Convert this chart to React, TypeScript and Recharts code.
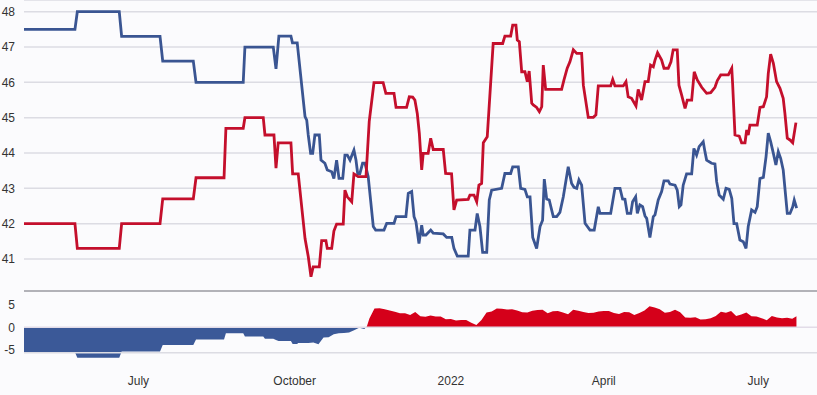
import { LineChart, Line, AreaChart, Area, XAxis, YAxis, CartesianGrid, ReferenceLine } from "recharts";

// x = days counted from 1 July 2021
const dayRange: [number, number] = [-67.4, 399.6];
const monthTicks = [0, 92, 184, 274, 365];
const monthLabels = ["July", "October", "2022", "April", "July"];

const levelTicks = [41, 42, 43, 44, 45, 46, 47, 48];
const gapTicks = [-5, 0, 5];

// blue series [day, %]
const demPoints: [number, number][] = [
	[-67.4, 47.5], [-37.4, 47.5], [-36.0, 48.0], [-11.3, 48.0], [-9.9, 47.3], [12.7, 47.3], [14.3, 46.6], [32.3, 46.6],
	[33.9, 46.0], [61.7, 46.0], [62.7, 47.0], [79.4, 47.0], [81.0, 46.38], [82.7, 47.31], [89.8, 47.31], [90.7, 47.12],
	[93.5, 47.12], [98.1, 45.03], [99.1, 44.93], [100.0, 44.51], [101.4, 43.99], [102.6, 43.99], [103.9, 44.51], [106.5, 44.51],
	[107.5, 43.8], [109.8, 43.71], [111.2, 43.52], [113.8, 43.47], [115.1, 43.28], [116.7, 43.8], [118.1, 43.28], [120.3, 43.28],
	[121.6, 43.94], [123.0, 43.94], [124.6, 43.8], [126.9, 44.08], [128.1, 43.8], [129.1, 43.42], [130.4, 43.42], [132.0, 43.71],
	[133.4, 43.71], [135.3, 43.33], [138.3, 41.92], [139.7, 41.82], [144.6, 41.82], [146.2, 42.01], [150.5, 42.01], [151.7, 42.2],
	[157.5, 42.2], [158.9, 42.86], [160.9, 42.91], [162.3, 42.2], [163.4, 42.06], [165.2, 41.44], [166.8, 41.96], [167.7, 41.68],
	[169.3, 41.68], [172.1, 41.82], [173.6, 41.73], [179.5, 41.71], [181.5, 41.61], [184.5, 41.61], [185.8, 41.3], [187.8, 41.08],
	[194.2, 41.08], [195.2, 41.82], [198.2, 41.82], [199.5, 42.29], [201.1, 41.92], [202.7, 41.19], [205.1, 41.19], [206.6, 42.67],
	[208.0, 42.95], [213.9, 43.0], [215.8, 43.42], [219.2, 43.42], [220.4, 43.61], [223.7, 43.61], [225.1, 43.0], [227.6, 42.97],
	[229.0, 42.76], [230.6, 42.76], [232.2, 41.61], [234.5, 41.3], [236.5, 41.92], [238.0, 42.1], [239.0, 43.26], [240.4, 42.7],
	[241.9, 42.67], [244.3, 42.2], [246.3, 42.2], [248.2, 42.32], [250.2, 42.76], [253.1, 43.61], [255.1, 43.14], [256.5, 43.03],
	[258.1, 43.0], [259.4, 43.24], [261.0, 43.09], [263.0, 42.01], [265.9, 41.82], [268.4, 41.82], [270.8, 42.48], [271.8, 42.29],
	[278.1, 42.29], [280.6, 43.0], [283.6, 43.0], [285.1, 42.7], [286.5, 42.69], [287.9, 42.29], [289.9, 42.29], [291.0, 42.62],
	[292.8, 42.76], [293.8, 42.29], [295.3, 42.53], [296.9, 42.48], [298.3, 42.22], [299.3, 42.15], [301.2, 41.61], [303.2, 42.2],
	[304.2, 42.25], [306.1, 42.67], [308.1, 42.91], [309.5, 43.21], [312.0, 43.21], [313.0, 43.12], [316.0, 43.09], [317.3, 42.95],
	[318.5, 42.48], [319.5, 42.53], [320.8, 43.09], [322.8, 43.41], [325.8, 43.41], [327.1, 44.13], [328.7, 43.94], [330.2, 44.18],
	[332.6, 44.32], [333.6, 44.04], [334.6, 43.8], [337.5, 43.71], [339.5, 43.69], [340.5, 43.19], [342.0, 42.81], [344.4, 42.69],
	[346.0, 43.0], [347.9, 42.97], [349.4, 42.72], [350.7, 42.0], [352.3, 42.0], [354.2, 41.54], [356.2, 41.49], [357.8, 41.3],
	[359.1, 41.92], [361.1, 42.39], [363.1, 42.32], [364.4, 42.48], [366.0, 43.28], [368.0, 43.31], [369.6, 43.9], [370.9, 44.56],
	[372.3, 44.32], [373.9, 43.99], [375.4, 43.66], [376.8, 44.04], [378.2, 43.85], [379.7, 43.52], [382.1, 42.29], [383.7, 42.29],
	[385.3, 42.48], [386.2, 42.67], [387.6, 42.44],
];

// red series [day, %]
const gopPoints: [number, number][] = [
	[-67.4, 42.0], [-37.4, 42.0], [-36.0, 41.3], [-11.3, 41.3], [-9.9, 42.0], [12.7, 42.0], [14.3, 42.7], [32.3, 42.7],
	[33.9, 43.3], [50.4, 43.3], [51.5, 44.7], [61.7, 44.7], [62.7, 45.0], [73.5, 45.0], [74.5, 44.51], [79.8, 44.51],
	[81.0, 43.57], [82.3, 44.29], [89.8, 44.29], [90.8, 43.41], [94.1, 43.41], [98.1, 41.58], [100.0, 41.07], [101.6, 40.5],
	[102.9, 40.78], [106.5, 40.78], [107.9, 41.52], [110.4, 41.52], [111.2, 41.3], [113.8, 41.3], [115.1, 41.79], [116.7, 41.99],
	[120.6, 41.99], [121.6, 42.95], [123.0, 42.76], [125.6, 42.62], [126.9, 43.41], [129.4, 43.33], [134.0, 43.33], [135.9, 44.89],
	[138.7, 45.99], [144.1, 45.99], [145.7, 45.69], [150.5, 45.69], [151.7, 45.29], [157.9, 45.29], [159.5, 45.59], [161.5, 45.58],
	[162.8, 45.5], [164.2, 45.12], [165.4, 44.56], [166.8, 43.52], [167.7, 43.99], [170.6, 43.99], [172.1, 44.42], [173.6, 44.1],
	[179.5, 44.1], [180.9, 43.42], [184.4, 43.41], [185.8, 42.39], [187.4, 42.67], [194.2, 42.69], [195.2, 42.81], [197.6, 42.81],
	[199.2, 42.62], [200.5, 43.09], [202.1, 43.14], [203.1, 44.29], [205.4, 44.46], [208.9, 47.1], [214.5, 47.1], [215.8, 47.31],
	[219.2, 47.31], [220.4, 47.62], [222.3, 47.62], [223.1, 47.2], [224.3, 47.15], [225.7, 46.3], [227.6, 46.3], [229.0, 46.02],
	[230.1, 46.32], [231.6, 45.41], [232.5, 45.36], [234.5, 45.29], [236.1, 45.17], [237.5, 45.31], [238.4, 46.49], [239.8, 45.8],
	[249.2, 45.8], [250.6, 46.07], [252.5, 46.4], [254.1, 46.58], [256.1, 46.92], [258.1, 46.82], [261.0, 46.82], [262.0, 45.92],
	[264.9, 45.01], [267.9, 45.01], [269.4, 45.08], [270.8, 45.9], [278.1, 45.9], [279.3, 46.08], [280.6, 45.9], [285.5, 45.9],
	[287.1, 46.02], [288.4, 45.59], [290.4, 45.55], [293.0, 45.33], [294.3, 45.8], [296.3, 45.5], [298.3, 46.02], [300.2, 46.02],
	[301.6, 46.49], [303.2, 46.44], [304.2, 46.63], [305.7, 46.84], [308.1, 46.63], [309.5, 46.4], [312.0, 46.4], [313.6, 46.58],
	[314.9, 46.92], [317.3, 46.92], [318.3, 45.92], [319.9, 45.64], [321.9, 45.26], [323.2, 45.5], [325.8, 45.5], [327.3, 46.3],
	[329.1, 46.07], [331.7, 45.86], [334.6, 45.69], [337.0, 45.71], [339.5, 45.86], [340.9, 46.05], [342.9, 46.21], [347.4, 46.21],
	[349.4, 46.4], [349.9, 45.97], [351.3, 44.51], [353.8, 44.48], [355.2, 44.29], [357.2, 44.29], [358.2, 44.65], [359.1, 44.51],
	[360.1, 44.79], [364.4, 44.79], [366.0, 45.29], [368.0, 45.31], [369.9, 45.59], [370.9, 46.25], [372.3, 46.8], [373.9, 46.54],
	[375.8, 46.02], [377.8, 45.83], [379.7, 45.55], [380.7, 45.12], [382.1, 44.42], [383.7, 44.37], [385.3, 44.29], [387.2, 44.86],
];

// lower panel: red minus blue [day, points]
const gapPoints: [number, number][] = [
	[-67.4, -5.5], [-37.4, -5.5], [-36.0, -6.7], [-11.3, -6.7], [-9.9, -5.3], [12.7, -5.3], [14.3, -3.9], [32.3, -3.9],
	[33.9, -2.7], [50.4, -2.7], [51.5, -1.3], [61.7, -1.3], [62.7, -2.0], [73.5, -2.0], [74.5, -2.5], [79.4, -2.5],
	[81.0, -2.8], [82.5, -3.0], [89.8, -3.0], [90.8, -3.7], [93.5, -3.7], [94, -3.48], [97, -3.45], [100, -3.44],
	[103, -3.37], [106, -3.73], [109, -2.22], [112, -2.2], [115, -1.54], [118, -1.29], [121, -1.27], [124, -1.14],
	[127, -0.65], [130, -0.09], [133, -0.38], [134.5, 0.2], [136, 1.93], [139, 4.12], [142, 4.17], [145, 3.95],
	[148, 3.68], [151, 3.43], [154, 3.09], [157, 3.09], [160, 2.7], [163, 3.34], [166, 2.41], [169, 2.31],
	[172, 2.58], [175, 2.37], [178, 2.39], [181, 1.79], [184, 1.8], [187, 1.47], [190, 1.6], [193, 1.61],
	[196, 0.99], [199, 0.53], [202, 1.63], [205, 3.24], [208, 3.47], [211, 4.12], [214, 4.1], [217, 3.89],
	[220, 3.97], [223, 3.69], [226, 3.31], [229, 3.26], [232, 3.64], [235, 3.81], [238, 3.87], [241, 3.11],
	[244, 3.54], [247, 3.56], [250, 3.27], [253, 2.87], [256, 3.85], [259, 3.65], [262, 3.37], [265, 3.13],
	[268, 3.19], [271, 3.46], [274, 3.61], [277, 3.61], [280, 3.15], [283, 2.9], [286, 3.34], [289, 3.29],
	[292, 2.71], [295, 3.16], [298, 3.67], [301, 4.62], [304, 4.35], [307, 3.96], [310, 3.19], [313, 3.39],
	[316, 3.83], [319, 3.3], [322, 2.15], [325, 2.09], [328, 2.19], [331, 1.69], [334, 1.78], [337, 1.98],
	[340, 2.51], [343, 3.44], [346, 3.21], [349, 3.56], [352, 2.5], [355, 2.8], [358, 3.24], [361, 2.42],
	[364, 2.36], [367, 2.0], [370, 1.56], [373, 2.51], [376, 2.13], [379, 2.01], [382, 2.12], [385, 1.87],
	[387.5, 2.42],
];

const BLUE = "#3a5592";
const RED = "#c40f2c";
const FONT = "'Liberation Sans', Arial, sans-serif";
const tickStyle = { fill: "#333", fontSize: 12, fontFamily: FONT };

const toRows = (points: [number, number][]) => points.map(([day, value]) => ({ day, value }));

const demRows = toRows(demPoints);
const gopRows = toRows(gopPoints);
const gapRows = toRows(gapPoints);

const gapMax = Math.max(...gapPoints.map((p) => p[1]));
const gapMin = Math.min(...gapPoints.map((p) => p[1]));
const zeroOffset = gapMax / (gapMax - gapMin);

export default function App() {
	return (
		<div style={{ width: 817, height: 395, background: "#fbfbfd" }}>
			<style>{`body { margin: 0; background: #fbfbfd; }`}</style>
			<LineChart width={817} height={292} margin={{ top: 0, right: 0, bottom: 0, left: 0 }}>
				<CartesianGrid vertical={false} stroke="#dcdce3" strokeWidth={1.5} />
				<XAxis
					type="number"
					dataKey="day"
					domain={dayRange}
					allowDataOverflow
					ticks={monthTicks}
					tick={false}
					tickLine={false}
					height={1}
					axisLine={{ stroke: "#b2b2b8", strokeWidth: 2 }}
				/>
				<YAxis
					type="number"
					domain={[40.095, 48.331]}
					allowDataOverflow
					ticks={levelTicks}
					width={24}
					tickLine={false}
					axisLine={false}
					tickMargin={3}
					tick={tickStyle}
				/>
				<Line data={demRows} dataKey="value" type="linear" stroke={BLUE} strokeWidth={2.8} dot={false} isAnimationActive={false} />
				<Line data={gopRows} dataKey="value" type="linear" stroke={RED} strokeWidth={2.8} dot={false} isAnimationActive={false} />
			</LineChart>
			<AreaChart width={817} height={103} data={gapRows} margin={{ top: 0, right: 0, bottom: 0, left: 0 }}>
				<defs>
					<linearGradient id="gapFill" x1="0" y1="0" x2="0" y2="1">
						<stop offset={zeroOffset} stopColor="#d5001a" />
						<stop offset={zeroOffset} stopColor="#3b5998" />
					</linearGradient>
				</defs>
				<ReferenceLine y={0} stroke="#e2dce8" strokeWidth={1.5} />
				<ReferenceLine y={-5.6} stroke="#dcdce3" strokeWidth={1.5} />
				<XAxis
					type="number"
					dataKey="day"
					domain={dayRange}
					allowDataOverflow
					ticks={monthTicks}
					tickFormatter={(v: number) => monthLabels[monthTicks.indexOf(v)] ?? ""}
					tickLine={false}
					axisLine={false}
					height={27}
					tick={tickStyle}
				/>
				<YAxis
					type="number"
					domain={[-8.95, 7.76]}
					allowDataOverflow
					ticks={gapTicks}
					width={24}
					tickLine={false}
					axisLine={false}
					tickMargin={3}
					tick={tickStyle}
				/>
				<Area
					dataKey="value"
					type="linear"
					baseValue={0}
					stroke="none"
					fill="url(#gapFill)"
					fillOpacity={1}
					isAnimationActive={false}
				/>
			</AreaChart>
		</div>
	);
}
